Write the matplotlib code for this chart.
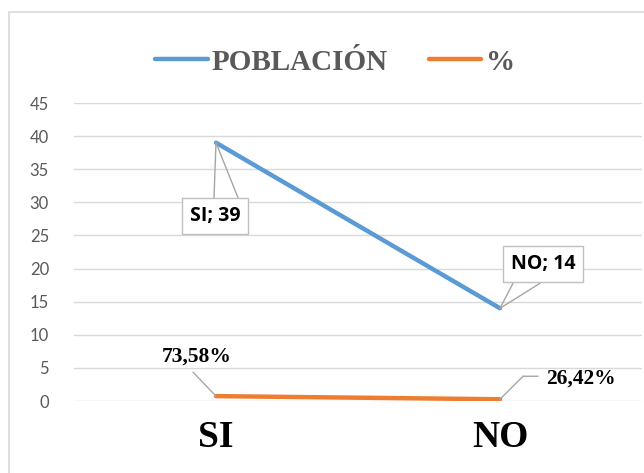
import matplotlib.pyplot as plt
from matplotlib.patches import Rectangle
from matplotlib.transforms import offset_copy

categories = ['SI', 'NO']
poblacion = [39, 14]
porcentaje = [0.7358, 0.2642]
pct_labels = ['73,58%', '26,42%']
yticks = [0, 5, 10, 15, 20, 25, 30, 35, 40, 45]

blue = '#5B9BD5'
orange = '#ED7D31'
grid = '#D9D9D9'
gray_text = '#595959'

fig = plt.figure(figsize=(6.44, 4.73), dpi=100)
ax = fig.add_axes([74 / 644, 72 / 473, 568 / 644, 298 / 473])

# outer chart border
fig.patches.append(Rectangle((9 / 644, -0.02), 1.1, 1 - 12 / 473 + 0.02,
                             transform=fig.transFigure, fill=False,
                             edgecolor=grid, linewidth=1.2))

x = list(range(len(categories)))
ax.plot(x, poblacion, color=blue, linewidth=3.2, solid_capstyle='round', label='POBLACIÓN', zorder=3)
ax.plot(x, porcentaje, color=orange, linewidth=3.2, solid_capstyle='round', label='%', zorder=3)

ax.set_xlim(-0.5, 1.5)
ax.set_ylim(0, 45)
ax.set_yticks(yticks)
ax.set_yticklabels([str(v) for v in yticks], fontfamily='Lato', fontsize=12, color=gray_text)
ax.tick_params(axis='y', length=0, pad=18)
ax.set_xticks(x)
ax.set_xticklabels(categories, fontfamily='Liberation Serif', fontweight='bold', fontsize=27, color='black')
ax.tick_params(axis='x', length=0, pad=14)
ax.grid(axis='y', color=grid, linewidth=1)
ax.set_axisbelow(True)
for s in ax.spines.values():
    s.set_visible(False)

leader = dict(arrowstyle='-', color='#A6A6A6', linewidth=1, shrinkA=0, shrinkB=0)
box = dict(boxstyle='square,pad=0.42', facecolor='white', edgecolor='#BFBFBF', linewidth=1)

# boxed labels for POBLACIÓN
offsets = [(-1, -73), (43, 44)]
wedges = [[(-2, -55), (22, -55)], [(13, 25), (40, 25)]]
for i in range(len(categories)):
    for w in wedges[i]:
        ax.annotate('', xy=(x[i], poblacion[i]), xytext=w, textcoords='offset pixels',
                    arrowprops=leader, zorder=4)
    ax.annotate(f'{categories[i]}; {poblacion[i]}', xy=(x[i], poblacion[i]),
                xytext=offsets[i], textcoords='offset pixels', ha='center', va='center',
                fontfamily='Open Sans', fontweight='bold', fontsize=14, color='black',
                bbox=box, zorder=5)

# percentage labels with leader lines
ax.annotate('', xy=(x[0], porcentaje[0]), xytext=(-23, 24), textcoords='offset pixels',
            arrowprops=leader)
ax.annotate('', xy=(x[1], porcentaje[1]), xytext=(23, 23), textcoords='offset pixels',
            arrowprops=leader)
kink = offset_copy(ax.transData, fig=fig, x=23, y=23, units='dots')
ax.annotate('', xy=(x[1], porcentaje[1]), xycoords=kink, xytext=(15, 0),
            textcoords='offset pixels', arrowprops=leader)
pct_off = [(-19, 40), (81, 21)]
for i in range(len(categories)):
    ax.annotate(pct_labels[i], xy=(x[i], porcentaje[i]), xytext=pct_off[i],
                textcoords='offset pixels', ha='center', va='center',
                fontfamily='Liberation Serif', fontweight='bold', fontsize=15.5, color='black')

fig.legend(loc='center', bbox_to_anchor=(335 / 644, 1 - 62 / 473), ncol=2, frameon=False,
           prop={'family': 'Liberation Serif', 'weight': 'bold', 'size': 21},
           labelcolor=gray_text, handlelength=1.8, handletextpad=0.15, columnspacing=1.4)

fig.savefig('out.png', dpi=100)
